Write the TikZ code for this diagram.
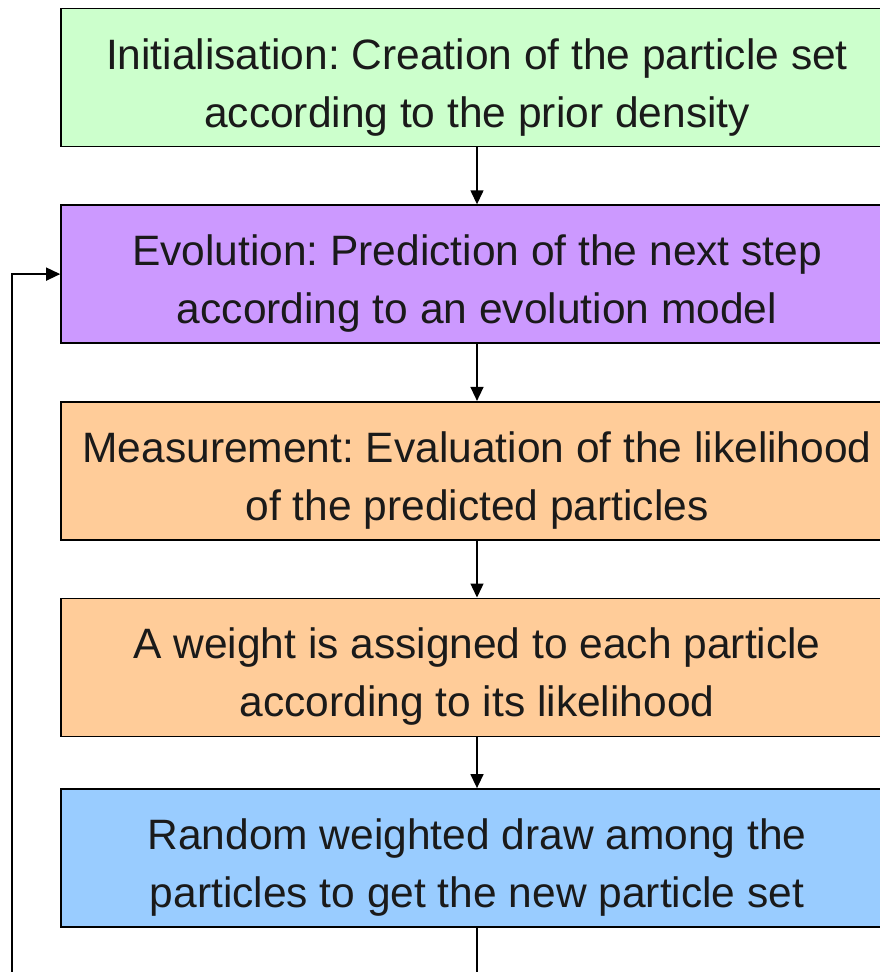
\documentclass[tikz,border=0pt]{standalone}
\usepackage{fontspec}
\setmainfont{Liberation Sans}
\usetikzlibrary{positioning,arrows.meta}

\definecolor{initgreen}{HTML}{CCFFCC}
\definecolor{evolpurple}{HTML}{CC99FF}
\definecolor{measorange}{HTML}{FFCC99}
\definecolor{drawblue}{HTML}{99CCFF}
\definecolor{textgrey}{HTML}{1A1A1A}

% invisible strut that lowers the two text lines a little in each box
\newcommand{\boxstrut}{\rule{0pt}{50pt}}

\tikzset{
    stagebox/.style={rectangle, draw=black, line width=1.6pt,
        minimum width=832pt, minimum height=138pt, inner sep=0pt,
        align=center, text=textgrey,
        font=\fontsize{42.5}{58}\selectfont\frenchspacing},
    flow/.style={line width=1.4pt, -{Triangle[length=14pt,width=13pt]}}
}

\begin{document}
\begin{tikzpicture}[x=1pt, y=-1pt]
    % Page frame (the right edge of the boxes runs off the page)
    \clip (0,0) rectangle (880,972);

    % The five stages
    \node[stagebox, fill=initgreen] (init) at (477,77.5)
        {\boxstrut Initialisation: Creation of the particle set\\according to the prior density};
    \node[stagebox, fill=evolpurple, below=57pt of init] (evol)
        {\boxstrut Evolution: Prediction of the next step\\according to an evolution model};
    \node[stagebox, fill=measorange, below=57pt of evol] (meas)
        {\boxstrut Measurement: Evaluation of the likelihood\\of the predicted particles};
    \node[stagebox, fill=measorange, below=57pt of meas] (weight)
        {\boxstrut A weight is assigned to each particle\\according to its likelihood};
    \node[stagebox, fill=drawblue, below=51pt of weight] (resample)
        {\boxstrut Random weighted draw among the\\particles to get the new particle set};

    % Arrows between stages
    \draw[flow] (init) -- (evol);
    \draw[flow] (evol) -- (meas);
    \draw[flow] (meas) -- (weight);
    \draw[flow] (weight) -- (resample);

    % Loop back to the evolution step
    \coordinate (loopcorner) at (12,1000);
    \draw[flow] (resample.south) |- (loopcorner) |- (evol.west);
\end{tikzpicture}
\end{document}
